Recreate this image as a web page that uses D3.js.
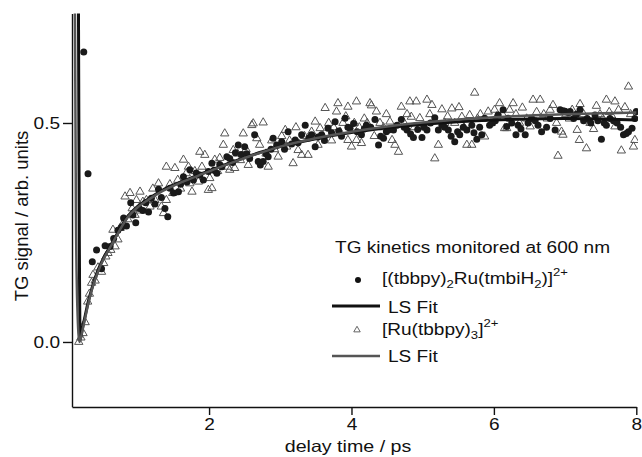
<!DOCTYPE html>
<html>
<head>
<meta charset="utf-8">
<script src="https://cdn.jsdelivr.net/npm/d3@7"></script>
<style>
  body { margin: 0; background: #fff; }
  svg { display: block; font-family: "Liberation Sans", Arial, sans-serif; }
</style>
</head>
<body>
<div id="chart"></div>
<script>
// TG kinetics at 600 nm

// [(tbbpy)2Ru(tmbiH2)]2+ data: [delay ps, signal]
var dotData = [[0.24,0.662],[0.30,0.384],[0.36,0.183],[0.42,0.21],[0.49,0.167],[0.54,0.22],[0.61,0.218],[0.66,0.236],[0.72,0.255],[0.77,0.262],[0.80,0.283],[0.84,0.265],[0.90,0.318],[0.93,0.29],[0.97,0.272],[1.02,0.305],[1.07,0.30],[1.11,0.318],[1.15,0.297],[1.19,0.328],[1.24,0.315],[1.29,0.349],[1.33,0.33],[1.38,0.305],[1.42,0.286],[1.45,0.351],[1.50,0.34],[1.57,0.343],[1.60,0.36],[1.64,0.377],[1.69,0.365],[1.73,0.393],[1.78,0.37],[1.82,0.386],[1.87,0.381],[1.92,0.37],[1.99,0.389],[2.04,0.408],[2.07,0.392],[2.11,0.385],[2.15,0.405],[2.18,0.40],[2.25,0.423],[2.29,0.419],[2.33,0.41],[2.37,0.432],[2.41,0.45],[2.45,0.428],[2.50,0.446],[2.53,0.43],[2.57,0.419],[2.64,0.473],[2.69,0.412],[2.72,0.404],[2.76,0.412],[2.80,0.43],[2.83,0.423],[2.87,0.44],[2.90,0.465],[2.95,0.45],[3.02,0.457],[3.06,0.44],[3.11,0.48],[3.16,0.452],[3.21,0.461],[3.25,0.455],[3.30,0.473],[3.35,0.495],[3.40,0.466],[3.44,0.473],[3.49,0.446],[3.53,0.468],[3.58,0.473],[3.62,0.46],[3.67,0.488],[3.72,0.478],[3.77,0.503],[3.82,0.482],[3.86,0.47],[3.91,0.511],[3.95,0.49],[3.98,0.488],[4.03,0.499],[4.08,0.48],[4.14,0.473],[4.18,0.486],[4.21,0.495],[4.27,0.49],[4.33,0.508],[4.38,0.45],[4.41,0.47],[4.45,0.465],[4.49,0.48],[4.52,0.484],[4.59,0.484],[4.64,0.495],[4.70,0.508],[4.74,0.49],[4.78,0.484],[4.83,0.475],[4.87,0.467],[4.93,0.485],[4.99,0.467],[5.02,0.49],[5.06,0.484],[5.11,0.50],[5.17,0.512],[5.22,0.484],[5.27,0.495],[5.31,0.49],[5.36,0.484],[5.40,0.47],[5.45,0.457],[5.49,0.48],[5.52,0.473],[5.57,0.49],[5.62,0.484],[5.69,0.495],[5.72,0.478],[5.76,0.463],[5.80,0.49],[5.83,0.473],[5.87,0.511],[5.94,0.495],[5.98,0.50],[6.02,0.505],[6.06,0.518],[6.13,0.53],[6.18,0.492],[6.20,0.511],[6.25,0.50],[6.31,0.473],[6.34,0.495],[6.38,0.486],[6.44,0.473],[6.48,0.50],[6.53,0.51],[6.58,0.505],[6.62,0.495],[6.67,0.48],[6.74,0.49],[6.79,0.51],[6.86,0.484],[6.93,0.53],[6.97,0.528],[7.00,0.527],[7.04,0.524],[7.07,0.526],[7.12,0.51],[7.16,0.52],[7.21,0.53],[7.26,0.505],[7.31,0.51],[7.36,0.50],[7.42,0.518],[7.46,0.505],[7.51,0.463],[7.55,0.50],[7.58,0.495],[7.63,0.51],[7.68,0.505],[7.73,0.50],[7.78,0.49],[7.82,0.473],[7.86,0.476],[7.89,0.48],[7.94,0.488],[7.98,0.51],[8.0,0.526]];

// [Ru(tbbpy)3]2+ data
var triData = [[0.17,0.0],[0.20,0.01],[0.23,0.02],[0.26,0.045],[0.295,0.092],[0.32,0.11],[0.35,0.135],[0.37,0.153],[0.40,0.14],[0.44,0.17],[0.49,0.16],[0.52,0.18],[0.55,0.195],[0.58,0.203],[0.62,0.21],[0.65,0.256],[0.68,0.218],[0.72,0.234],[0.75,0.26],[0.79,0.27],[0.82,0.332],[0.86,0.28],[0.89,0.34],[0.92,0.305],[0.96,0.29],[0.98,0.324],[1.03,0.343],[1.03,0.30],[1.07,0.32],[1.12,0.324],[1.17,0.309],[1.21,0.35],[1.24,0.324],[1.29,0.362],[1.33,0.309],[1.36,0.294],[1.40,0.40],[1.40,0.324],[1.45,0.36],[1.49,0.34],[1.52,0.397],[1.56,0.37],[1.60,0.35],[1.64,0.416],[1.68,0.385],[1.71,0.40],[1.73,0.362],[1.76,0.343],[1.80,0.39],[1.85,0.366],[1.87,0.434],[1.90,0.40],[1.94,0.427],[1.99,0.347],[2.01,0.374],[2.04,0.351],[2.08,0.416],[2.12,0.39],[2.15,0.42],[2.20,0.45],[2.22,0.476],[2.26,0.40],[2.29,0.393],[2.34,0.438],[2.36,0.397],[2.40,0.43],[2.44,0.415],[2.48,0.476],[2.52,0.44],[2.55,0.404],[2.60,0.495],[2.62,0.499],[2.67,0.465],[2.71,0.45],[2.76,0.501],[2.80,0.43],[2.83,0.40],[2.88,0.46],[2.92,0.44],[2.97,0.423],[3.02,0.47],[3.07,0.484],[3.09,0.446],[3.13,0.46],[3.18,0.408],[3.22,0.49],[3.25,0.438],[3.30,0.427],[3.34,0.47],[3.39,0.427],[3.44,0.48],[3.49,0.503],[3.53,0.45],[3.56,0.488],[3.60,0.47],[3.63,0.534],[3.68,0.50],[3.72,0.46],[3.75,0.49],[3.79,0.526],[3.81,0.545],[3.84,0.48],[3.88,0.50],[3.92,0.515],[3.95,0.537],[3.95,0.461],[4.00,0.446],[4.04,0.50],[4.07,0.549],[4.07,0.461],[4.11,0.49],[4.14,0.454],[4.18,0.51],[4.22,0.50],[4.26,0.545],[4.28,0.54],[4.32,0.47],[4.35,0.526],[4.40,0.50],[4.45,0.49],[4.49,0.52],[4.54,0.503],[4.57,0.461],[4.61,0.45],[4.66,0.434],[4.70,0.537],[4.74,0.50],[4.78,0.52],[4.82,0.549],[4.84,0.514],[4.88,0.49],[4.91,0.549],[4.96,0.511],[5.00,0.49],[5.06,0.553],[5.10,0.52],[5.13,0.541],[5.17,0.419],[5.22,0.45],[5.27,0.531],[5.31,0.50],[5.35,0.515],[5.41,0.533],[5.45,0.50],[5.51,0.536],[5.55,0.514],[5.58,0.49],[5.62,0.45],[5.66,0.518],[5.69,0.45],[5.73,0.569],[5.77,0.51],[5.81,0.52],[5.87,0.469],[5.92,0.526],[5.96,0.50],[6.01,0.53],[6.04,0.515],[6.08,0.545],[6.12,0.52],[6.15,0.488],[6.18,0.488],[6.22,0.53],[6.27,0.545],[6.31,0.52],[6.36,0.50],[6.40,0.535],[6.46,0.51],[6.51,0.492],[6.55,0.553],[6.60,0.525],[6.65,0.553],[6.70,0.52],[6.75,0.51],[6.79,0.53],[6.83,0.541],[6.88,0.50],[6.90,0.425],[6.95,0.48],[6.97,0.473],[7.01,0.52],[7.06,0.51],[7.10,0.53],[7.17,0.484],[7.20,0.461],[7.21,0.543],[7.26,0.52],[7.30,0.442],[7.35,0.50],[7.40,0.486],[7.44,0.539],[7.49,0.52],[7.53,0.51],[7.58,0.553],[7.62,0.525],[7.66,0.515],[7.70,0.549],[7.70,0.492],[7.75,0.53],[7.79,0.437],[7.84,0.536],[7.89,0.583],[7.92,0.52],[7.96,0.446],[7.98,0.461]];

// least squares fits (spike at t0 runs off the top)
var fitBlack = [[0.165,0.80],[0.19,0.005],[0.22,0.03],[0.26,0.06],[0.30,0.09],[0.35,0.12],[0.44,0.164],[0.52,0.192],[0.60,0.215],[0.72,0.25],[0.85,0.285],[1.0,0.31],[1.15,0.327],[1.35,0.347],[1.6,0.365],[1.85,0.381],[2.1,0.397],[2.4,0.415],[2.7,0.432],[3.0,0.446],[3.5,0.464],[4.0,0.478],[4.5,0.489],[5.0,0.497],[5.5,0.503],[6.0,0.507],[6.5,0.509],[7.0,0.510],[7.5,0.509],[8.0,0.507]];
var fitGray = [[0.115,0.80],[0.13,0.30],[0.15,0.08],[0.18,0.0],[0.22,0.025],[0.26,0.055],[0.30,0.085],[0.35,0.117],[0.44,0.16],[0.52,0.19],[0.60,0.213],[0.72,0.248],[0.85,0.283],[1.0,0.308],[1.15,0.325],[1.35,0.345],[1.6,0.364],[1.85,0.38],[2.1,0.396],[2.4,0.414],[2.7,0.431],[3.0,0.446],[3.5,0.465],[4.0,0.48],[4.5,0.492],[5.0,0.501],[5.5,0.508],[6.0,0.513],[6.5,0.517],[7.0,0.52],[7.5,0.522],[8.0,0.524]];

var xMajor = [2, 4, 6, 8];
var xMinor = [1, 3, 5, 7];
var yMajor = [0, 0.5];
var yMinor = [0.25, 0.75];

var W = 642, H = 457;
var SX = 1.19; // text in the figure is stretched sideways

var svg = d3.select("#chart").append("svg")
  .attr("width", W)
  .attr("height", H);

var x = d3.scaleLinear().domain([0.075, 8]).range([72, 636.3]);
var y = d3.scaleLinear().domain([-0.148, 0.75]).range([406.8, 13.5]);

svg.append("clipPath").attr("id", "plot")
  .append("rect")
    .attr("x", 72).attr("y", 13.5)
    .attr("width", 566).attr("height", 394);

// axes
var gx = svg.append("g").attr("transform", "translate(0,407)");
gx.call(d3.axisBottom(x).tickValues(xMinor).tickSize(4).tickSizeOuter(0).tickFormat(""));
gx.call(d3.axisBottom(x).tickValues(xMajor).tickSize(8).tickSizeOuter(0).tickPadding(4));

var gy = svg.append("g").attr("transform", "translate(72,0)");
gy.call(d3.axisLeft(y).tickValues(yMinor).tickSize(4).tickSizeOuter(0).tickFormat(""));
gy.call(d3.axisLeft(y).tickValues(yMajor).tickSize(9).tickSizeOuter(0).tickFormat(d3.format(".1f")));

svg.selectAll(".domain, .tick line").attr("stroke", "#111").attr("stroke-width", 1.4);
svg.selectAll(".tick text").attr("font-size", 16).attr("fill", "#111")
  .attr("font-family", "Liberation Sans, Arial, sans-serif");
gx.selectAll(".tick text").attr("transform", "scale(" + SX + ",1)");
gy.selectAll(".tick text").attr("x", -12 / SX).attr("transform", "scale(" + SX + ",1)");

// axis titles
svg.append("text")
  .attr("transform", "translate(348,452) scale(" + SX + ",1)")
  .attr("text-anchor", "middle")
  .attr("font-size", 16.5).attr("fill", "#111")
  .text("delay time / ps");

svg.append("text")
  .attr("transform", "translate(28,216) rotate(-90)")
  .attr("text-anchor", "middle")
  .attr("font-size", 18.5).attr("fill", "#111")
  .text("TG signal / arb. units");

// data
var tri = d3.symbol().type(d3.symbolTriangle).size(30);

var plot = svg.append("g").attr("clip-path", "url(#plot)");

plot.selectAll("path.tri")
  .data(triData)
  .enter()
  .append("path")
    .attr("class", "tri")
    .attr("d", tri)
    .attr("transform", function(d) { return "translate(" + x(d[0]) + "," + y(d[1]) + ")"; })
    .attr("fill", "none")
    .attr("stroke", "#555")
    .attr("stroke-width", 1);

plot.selectAll("circle")
  .data(dotData)
  .enter()
  .append("circle")
    .attr("cx", function(d) { return x(d[0]); })
    .attr("cy", function(d) { return y(d[1]); })
    .attr("r", 3.5)
    .style("fill", "#1a1a1a");

var line = d3.line()
  .x(function(d) { return x(d[0]); })
  .y(function(d) { return y(d[1]); })
  .curve(d3.curveMonotoneX);

plot.append("path").datum(fitBlack)
  .attr("d", line)
  .attr("fill", "none").attr("stroke", "#111").attr("stroke-width", 3);

plot.append("path").datum(fitGray)
  .attr("d", line)
  .attr("fill", "none").attr("stroke", "#555").attr("stroke-width", 2.5);

// legend
var leg = svg.append("g").attr("fill", "#111");

function legText(px, py, size) {
  return leg.append("text")
    .attr("transform", "translate(" + px + "," + py + ") scale(" + SX + ",1)")
    .attr("font-size", size);
}

legText(335, 253, 16).text("TG kinetics monitored at 600 nm");

leg.append("circle").attr("cx", 358).attr("cy", 280).attr("r", 3).attr("fill", "#111");
var t1 = legText(382, 284, 16);
t1.append("tspan").text("[(tbbpy)");
t1.append("tspan").attr("dy", 4).attr("font-size", 11).text("2");
t1.append("tspan").attr("dy", -4).text("Ru(tmbiH");
t1.append("tspan").attr("dy", 4).attr("font-size", 11).text("2");
t1.append("tspan").attr("dy", -4).text(")]");
t1.append("tspan").attr("dy", -8).attr("font-size", 11).text("2+");

leg.append("line").attr("x1", 332).attr("x2", 380).attr("y1", 306).attr("y2", 306)
  .attr("stroke", "#111").attr("stroke-width", 3);
legText(388, 312.5, 16).text("LS Fit");

leg.append("path").attr("d", d3.symbol().type(d3.symbolTriangle).size(18))
  .attr("transform", "translate(357,330)")
  .attr("fill", "none").attr("stroke", "#555").attr("stroke-width", 0.9);
var t2 = legText(382, 335, 16);
t2.append("tspan").text("[Ru(tbbpy)");
t2.append("tspan").attr("dy", 4).attr("font-size", 11).text("3");
t2.append("tspan").attr("dy", -4).text("]");
t2.append("tspan").attr("dy", -8).attr("font-size", 11).text("2+");

leg.append("line").attr("x1", 332).attr("x2", 380).attr("y1", 356).attr("y2", 356)
  .attr("stroke", "#555").attr("stroke-width", 2.5);
legText(388, 361.5, 16).text("LS Fit");
</script>
</body>
</html>
